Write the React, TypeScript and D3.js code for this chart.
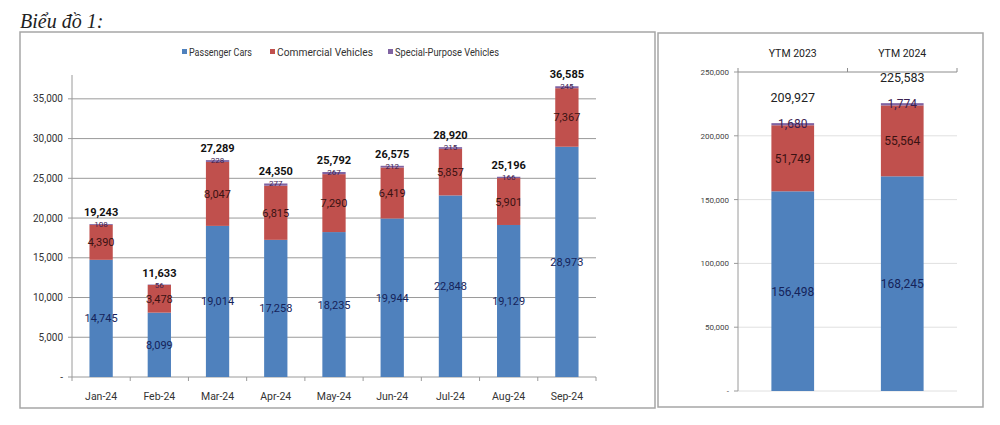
import React from 'react';
import * as d3 from 'd3';

// monthly sales 2024
const months = ['Jan-24', 'Feb-24', 'Mar-24', 'Apr-24', 'May-24', 'Jun-24', 'Jul-24', 'Aug-24', 'Sep-24'];
const passengerCars = [14745, 8099, 19014, 17258, 18235, 19944, 22848, 19129, 28973];
const commercialVehicles = [4390, 3478, 8047, 6815, 7290, 6419, 5857, 5901, 7367];
const specialVehicles = [108, 56, 228, 277, 267, 212, 215, 166, 245];
const monthTicks = [0, 5000, 10000, 15000, 20000, 25000, 30000, 35000];

// year to month totals
const periods = ['YTM 2023', 'YTM 2024'];
const ytmPassenger = [156498, 168245];
const ytmCommercial = [51749, 55564];
const ytmSpecial = [1680, 1774];
const ytmTicks = [0, 50000, 100000, 150000, 200000, 250000];

const seriesNames = ['Passenger Cars', 'Commercial Vehicles', 'Special-Purpose Vehicles'];
const colors = ['#4f81bd', '#c0504d', '#8064a2'];
const labelColors = ['#15235a', '#3a1212', '#3a2050'];

const FONT = 'Roboto, "Open Sans", sans-serif';
const fmt = d3.format(',');
const tickFmt = (v: number) => (v === 0 ? '-' : fmt(v));

function stackRows(a: number[], b: number[], c: number[]) {
  const rows = a.map((_, i) => ({ i, p: a[i], c: b[i], s: c[i] }));
  return d3.stack<any>().keys(['p', 'c', 's'])(rows);
}

const MonthChart = () => {
  const x = d3.scaleBand().domain(months).range([72, 596]);
  const y = d3.scaleLinear().domain([0, 38000]).range([377, 75]);
  const stacked = stackRows(passengerCars, commercialVehicles, specialVehicles);
  const bw = x.bandwidth() * 0.4;
  const totals = months.map((_, i) => passengerCars[i] + commercialVehicles[i] + specialVehicles[i]);

  return (
    <g fontFamily={FONT}>
      <rect x={20} y={32} width={635} height={376} fill="#fff" stroke="#a6a6a6" strokeWidth={1.5} />
      {/* legend */}
      {seriesNames.map((n, k) => {
        const lx = [182, 270, 388][k];
        const lw = [63, 96, 104][k];
        return (
          <g key={n}>
            <rect x={lx} y={49} width={5} height={5} fill={colors[k]} />
            <text x={lx + 7} y={55.5} fontSize={10.5} fill="#333" textLength={lw} lengthAdjust="spacingAndGlyphs">{n}</text>
          </g>
        );
      })}
      {/* grid + y axis */}
      {monthTicks.map(t => (
        <g key={t}>
          {t > 0 && <line x1={72} x2={596} y1={y(t)} y2={y(t)} stroke="#9a9a9a" />}
          <line x1={68} x2={72} y1={y(t)} y2={y(t)} stroke="#9a9a9a" />
          <text x={63} y={y(t) + 3.5} fontSize={10} textAnchor="end" fill="#333">{tickFmt(t)}</text>
        </g>
      ))}
      <line x1={72} x2={72} y1={75} y2={377} stroke="#9a9a9a" />
      <line x1={72} x2={596} y1={377} y2={377} stroke="#9a9a9a" />
      {months.concat(['end']).map((m, i) => {
        const xx = 72 + i * x.step();
        return <line key={m} x1={xx} x2={xx} y1={377} y2={381} stroke="#9a9a9a" />;
      })}
      {months.map(m => (
        <text key={m} x={x(m)! + x.bandwidth() / 2} y={400} fontSize={10.5} textAnchor="middle" fill="#333">{m}</text>
      ))}
      {/* bars */}
      {stacked.map((layer, k) => (
        <g key={k}>
          {layer.map((d, i) => (
            <rect key={i} x={x(months[i])! + (x.bandwidth() - bw) / 2} width={bw}
              y={y(d[1])} height={y(d[0]) - y(d[1])} fill={colors[k]} />
          ))}
        </g>
      ))}
      {/* segment labels */}
      {stacked.map((layer, k) => (
        <g key={'l' + k}>
          {layer.map((d, i) => {
            const cx = x(months[i])! + x.bandwidth() / 2;
            const cy = k === 2 ? y(d[1]) + 3 : (y(d[0]) + y(d[1])) / 2 + 4;
            return (
              <text key={i} x={cx} y={cy} fontSize={k === 2 ? 8 : 11} textAnchor="middle" fill={labelColors[k]}>
                {fmt(d[1] - d[0])}
              </text>
            );
          })}
        </g>
      ))}
      {totals.map((t, i) => (
        <text key={i} x={x(months[i])! + x.bandwidth() / 2} y={y(t) - 8} fontSize={11} fontWeight="bold"
          textAnchor="middle" fill="#111">{fmt(t)}</text>
      ))}
    </g>
  );
};

const YtmChart = () => {
  const x = d3.scaleBand().domain(periods).range([738, 957]);
  const y = d3.scaleLinear().domain([0, 250000]).range([391, 72]);
  const stacked = stackRows(ytmPassenger, ytmCommercial, ytmSpecial);
  const bw = x.bandwidth() * 0.39;
  const totals = periods.map((_, i) => ytmPassenger[i] + ytmCommercial[i] + ytmSpecial[i]);

  return (
    <g fontFamily={FONT}>
      <rect x={658} y={33} width={325} height={374} fill="#fff" stroke="#a6a6a6" strokeWidth={1.5} />
      {ytmTicks.map(t => (
        <g key={t}>
          {t < 250000 && <line x1={738} x2={957} y1={y(t)} y2={y(t)} stroke="#e0e0e0" />}
          <line x1={734} x2={738} y1={y(t)} y2={y(t)} stroke="#9a9a9a" />
          <text x={729} y={y(t) + 3} fontSize={8} textAnchor="end" fill="#444">{tickFmt(t)}</text>
        </g>
      ))}
      <line x1={738} x2={738} y1={72} y2={391} stroke="#9a9a9a" />
      <line x1={738} x2={957} y1={72} y2={72} stroke="#8c8c8c" />
      {periods.concat(['end']).map((p, i) => {
        const xx = 738 + i * x.step();
        return <line key={p} x1={xx} x2={xx} y1={68} y2={72} stroke="#8c8c8c" />;
      })}
      {periods.map(p => (
        <text key={p} x={x(p)! + x.bandwidth() / 2} y={57} fontSize={10.5} textAnchor="middle" fill="#222">{p}</text>
      ))}
      {stacked.map((layer, k) => (
        <g key={k}>
          {layer.map((d, i) => (
            <rect key={i} x={x(periods[i])! + (x.bandwidth() - bw) / 2} width={bw}
              y={y(d[1])} height={y(d[0]) - y(d[1])} fill={colors[k]} />
          ))}
        </g>
      ))}
      {stacked.map((layer, k) => (
        <g key={'l' + k}>
          {layer.map((d, i) => {
            const cx = x(periods[i])! + x.bandwidth() / 2;
            const cy = k === 2 ? y(d[1]) + 5 : (y(d[0]) + y(d[1])) / 2 + 4.5;
            return (
              <text key={i} x={cx} y={cy} fontSize={12} textAnchor="middle" fill={labelColors[k]}>
                {fmt(d[1] - d[0])}
              </text>
            );
          })}
        </g>
      ))}
      {totals.map((t, i) => (
        <text key={i} x={x(periods[i])! + x.bandwidth() / 2} y={y(t) - 21} fontSize={12.5}
          textAnchor="middle" fill="#222">{fmt(t)}</text>
      ))}
    </g>
  );
};

export default function App() {
  return (
    <svg width={1000} height={425} style={{ position: 'absolute', left: 0, top: 0, background: '#fff' }}>
      <text x={20} y={28} fontFamily='"Liberation Serif", "DejaVu Serif", serif' fontStyle="italic" fontSize={20} fill="#222">
        Biểu đồ 1:
      </text>
      <MonthChart />
      <YtmChart />
    </svg>
  );
}
